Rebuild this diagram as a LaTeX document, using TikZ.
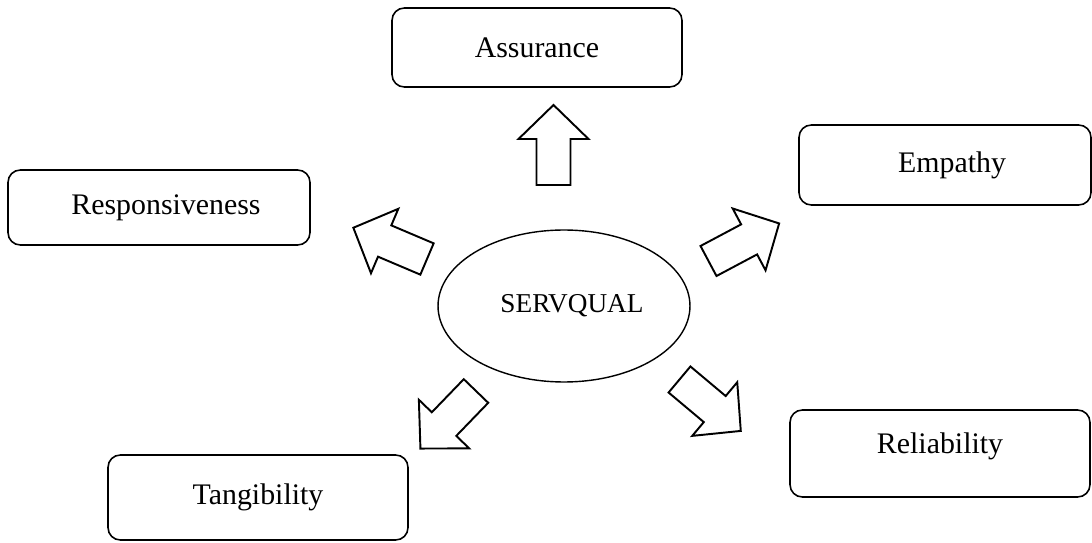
\documentclass[tikz,border=0pt]{standalone}
\usepackage{fontspec}
\setmainfont{Liberation Serif}
\usetikzlibrary{shapes.geometric}

\begin{document}
\begin{tikzpicture}[x=0.02cm, y=-0.02cm,
    dim/.style={draw, rectangle, rounded corners=7pt, line width=0.9pt, align=center, font=\fontsize{17}{20}\selectfont},
    blockarrow/.pic={\draw[line width=1.1pt, line join=miter] (0,-17) -- (46,-17) -- (46,-35) -- (80,0) -- (46,35) -- (46,17) -- (0,17) -- cycle;}]
\useasboundingbox (0,0) rectangle (1092,543);

% Centre
\node[draw, ellipse, line width=0.8pt, minimum width=5.04cm, minimum height=3.04cm, font=\fontsize{15.5}{18}\selectfont] (SQ) at (564,306) {\hspace*{0.32cm}SERVQUAL};

% Dimensions
\node[dim, minimum width=5.8cm, minimum height=1.58cm] (As) at (537,47.5) {Assurance};
\node[dim, minimum width=5.84cm, minimum height=1.6cm] (Em) at (945,165) {\hspace*{0.28cm}Empathy};
\node[dim, minimum width=6.04cm, minimum height=1.5cm] (Re) at (159,207.5) {\hspace*{0.28cm}Responsiveness};
\node[dim, minimum width=6cm, minimum height=1.74cm, text depth=0.4cm] (Rl) at (940,453.5) {Reliability};
\node[dim, minimum width=6cm, minimum height=1.7cm] (Ta) at (258,497.5) {Tangibility};

% Block arrows
\pic[rotate=90] (toAs) at (553.5,185) {blockarrow};
\pic[rotate=157] (toRe) at (427,259) {blockarrow};
\pic[rotate=28] (toEm) at (708.5,261) {blockarrow};
\pic[rotate=226] (toTa) at (476,391) {blockarrow};
\pic[rotate=-40] (toRl) at (679.5,379.5) {blockarrow};

\end{tikzpicture}
\end{document}
